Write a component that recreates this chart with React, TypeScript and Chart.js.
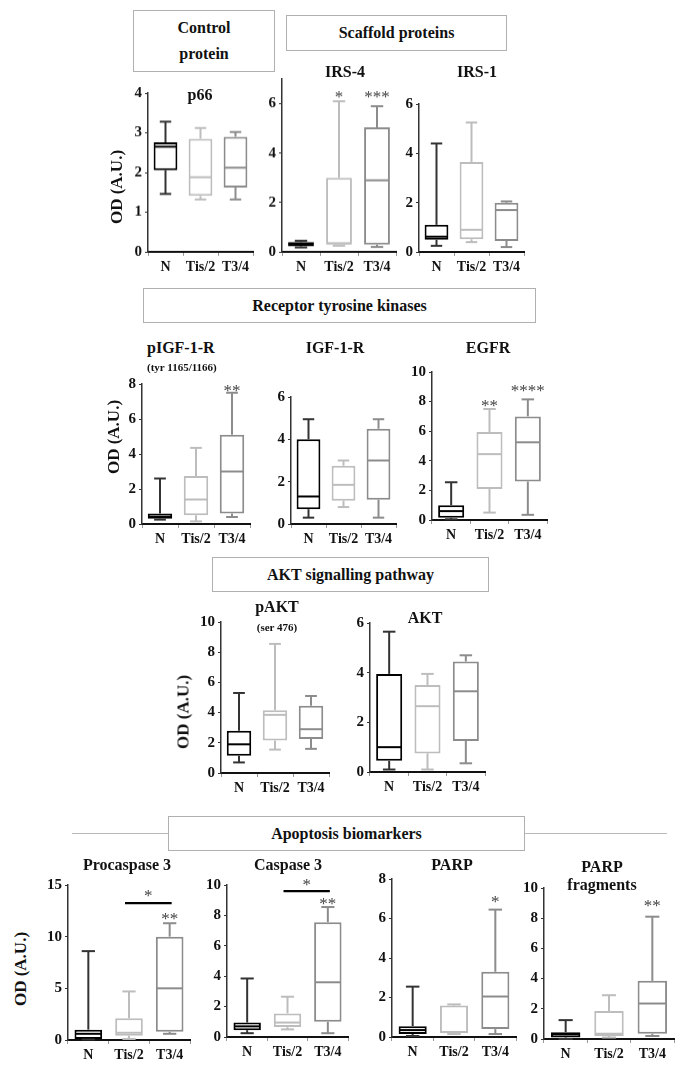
import React, { useEffect, useRef } from 'react';
import { Chart, registerables } from 'chart.js';
Chart.register(...registerables);

const FONT = '"Liberation Serif", "Times New Roman", serif';

const categories = ['N', 'Tis/2', 'T3/4'];
const boxColors = ['#000000', '#bdbdbd', '#8c8c8c'];
const whiskerColors = ['#333333', '#bdbdbd', '#8c8c8c'];

// five-number summaries [min, q1, median, q3, max] for N, Tis/2, T3/4
const p66Box = [[1.46, 2.06, 2.65, 2.76, 3.28], [1.32, 1.41, 1.88, 2.85, 3.12], [1.32, 1.62, 2.12, 2.9, 3.02]];
const irs4Box = [[0.18, 0.22, 0.3, 0.4, 0.45], [0.25, 0.3, 0.35, 3.0, 6.1], [0.2, 0.3, 2.9, 5.05, 5.9]];
const irs1Box = [[0.25, 0.5, 0.62, 1.1, 4.4], [0.4, 0.52, 0.9, 3.65, 5.25], [0.2, 0.45, 1.7, 2.0, 2.05]];
const pigf1rBox = [[0.25, 0.3, 0.42, 0.6, 2.6], [0.15, 0.5, 1.4, 2.75, 4.35], [0.4, 0.6, 3.0, 5.1, 7.5]];
const igf1rBox = [[0.3, 0.7, 1.3, 4.0, 4.95], [0.8, 1.1, 1.85, 2.75, 3.0], [0.3, 1.15, 3.0, 4.5, 4.95]];
const egfrBox = [[0.05, 0.15, 0.6, 1.0, 2.55], [0.5, 2.1, 4.45, 5.95, 7.5], [0.35, 2.6, 5.25, 7.0, 8.15]];
const paktBox = [[0.7, 1.15, 1.9, 2.8, 5.3], [1.55, 2.15, 3.85, 4.15, 8.55], [1.6, 2.25, 2.9, 4.45, 5.1]];
const aktBox = [[0.1, 0.45, 1.0, 3.95, 5.65], [0.1, 0.75, 2.65, 3.5, 3.95], [0.35, 1.25, 3.25, 4.45, 4.7]];
const procasp3Box = [[0.05, 0.1, 0.6, 1.0, 8.6], [0.1, 0.4, 0.7, 2.1, 4.7], [0.6, 0.8, 5.0, 10.0, 11.3]];
const casp3Box = [[0.25, 0.45, 0.7, 0.95, 3.85], [0.5, 0.65, 0.95, 1.55, 2.65], [0.25, 1.0, 3.6, 7.55, 8.55]];
const parpBox = [[0.05, 0.15, 0.35, 0.55, 2.55], [0.15, 0.2, 0.25, 1.6, 1.65], [0.15, 0.4, 2.05, 3.3, 6.45]];
const parpFragBox = [[0.0, 0.1, 0.3, 0.45, 1.25], [0.1, 0.2, 0.35, 1.85, 2.9], [0.2, 0.35, 2.35, 3.85, 8.1]];

// significance stars per group and the value at which they sit
const irs4Stars = ['', '*', '***'];
const irs4StarAt = [0, 6.45, 6.45];
const pigf1rStars = ['', '', '**'];
const pigf1rStarAt = [0, 0, 7.85];
const egfrStars = ['', '**', '****'];
const egfrStarAt = [0, 7.95, 9.0];
const procasp3Stars = ['', '', '**'];
const procasp3StarAt = [0, 0, 12.1];
const casp3Stars = ['', '', '**'];
const casp3StarAt = [0, 0, 9.0];
const parpStars = ['', '', '*'];
const parpStarAt = [0, 0, 7.05];
const parpFragStars = ['', '', '**'];
const parpFragStarAt = [0, 0, 9.05];
// Tis/2 vs T3/4 comparison bar: [bar value, star value]
const procasp3Sig = [13.25, 14.3];
const casp3Sig = [9.6, 10.25];

const panels = [
  { box: p66Box, max: 4, step: 1, left: 148, right: 253, top: 93.3, bottom: 251.7 },
  { box: irs4Box, max: 7, step: 2, left: 282, right: 396, top: 79.3, bottom: 252, stars: irs4Stars, starAt: irs4StarAt },
  { box: irs1Box, max: 6, step: 2, left: 419, right: 524, top: 104, bottom: 252 },
  { box: pigf1rBox, max: 8, step: 2, left: 142, right: 250, top: 384, bottom: 524, stars: pigf1rStars, starAt: pigf1rStarAt },
  { box: igf1rBox, max: 6, step: 2, left: 291, right: 396, top: 397, bottom: 524 },
  { box: egfrBox, max: 10, step: 2, left: 432, right: 547, top: 372, bottom: 520, stars: egfrStars, starAt: egfrStarAt },
  { box: paktBox, max: 10, step: 2, left: 221, right: 329, top: 622, bottom: 773 },
  { box: aktBox, max: 6, step: 2, left: 370, right: 485, top: 623, bottom: 772 },
  { box: procasp3Box, max: 15, step: 5, left: 68, right: 190, top: 885, bottom: 1040, stars: procasp3Stars, starAt: procasp3StarAt, sig: procasp3Sig },
  { box: casp3Box, max: 10, step: 2, left: 227, right: 348, top: 885, bottom: 1037, stars: casp3Stars, starAt: casp3StarAt, sig: casp3Sig },
  { box: parpBox, max: 8, step: 2, left: 392, right: 516, top: 879, bottom: 1037, stars: parpStars, starAt: parpStarAt },
  { box: parpFragBox, max: 10, step: 2, left: 544, right: 674, top: 888, bottom: 1039, stars: parpFragStars, starAt: parpFragStarAt },
];

const Y_W = 32, X_H = 30, PAD_T = 12, PAD_R = 8;

function boxPlugin(p: any) {
  return {
    id: 'boxExtras',
    afterDatasetsDraw(chart: any) {
      const { ctx } = chart;
      const xs = chart.scales.x, ys = chart.scales.y;
      const meta = chart.getDatasetMeta(0);
      const seg = (x1: number, y1: number, x2: number, y2: number) => {
        ctx.beginPath(); ctx.moveTo(x1, y1); ctx.lineTo(x2, y2); ctx.stroke();
      };
      ctx.save();
      ctx.lineWidth = 2;
      p.box.forEach((s: number[], i: number) => {
        const cx = xs.getPixelForValue(i);
        const bw = meta.data[i].width;
        const cap = bw * 0.24;
        ctx.strokeStyle = whiskerColors[i];
        seg(cx, ys.getPixelForValue(s[0]), cx, ys.getPixelForValue(s[1]));
        seg(cx, ys.getPixelForValue(s[3]), cx, ys.getPixelForValue(s[4]));
        seg(cx - cap, ys.getPixelForValue(s[0]), cx + cap, ys.getPixelForValue(s[0]));
        seg(cx - cap, ys.getPixelForValue(s[4]), cx + cap, ys.getPixelForValue(s[4]));
        ctx.strokeStyle = boxColors[i];
        seg(cx - bw / 2 + 1, ys.getPixelForValue(s[2]), cx + bw / 2 - 1, ys.getPixelForValue(s[2]));
      });
      const drawStars = (str: string, cx: number, cy: number) => {
        ctx.fillStyle = '#444';
        ctx.font = `17px ${FONT}`;
        ctx.textAlign = 'center';
        ctx.textBaseline = 'alphabetic';
        const gap = 8.5;
        const n = str.length;
        for (let k = 0; k < n; k++) {
          ctx.fillText('*', cx + (k - (n - 1) / 2) * gap, cy + 9);
        }
      };
      if (p.stars) {
        p.stars.forEach((st: string, i: number) => {
          if (st) drawStars(st, xs.getPixelForValue(i), ys.getPixelForValue(p.starAt[i]));
        });
      }
      if (p.sig) {
        const x1 = xs.getPixelForValue(1) - 4, x2 = xs.getPixelForValue(2) + 2;
        ctx.strokeStyle = '#000';
        ctx.lineWidth = 2.2;
        seg(x1, ys.getPixelForValue(p.sig[0]), x2, ys.getPixelForValue(p.sig[0]));
        drawStars('*', (x1 + x2) / 2, ys.getPixelForValue(p.sig[1]));
      }
      ctx.restore();
    },
  };
}

function BoxPanel({ p }: { p: any }) {
  const ref = useRef<HTMLCanvasElement>(null);
  const w = Y_W + (p.right - p.left) + PAD_R;
  const h = PAD_T + (p.bottom - p.top) + X_H;
  useEffect(() => {
    const chart = new Chart(ref.current as HTMLCanvasElement, {
      type: 'bar',
      data: {
        labels: categories,
        datasets: [{
          data: p.box.map((s: number[]) => [s[1], s[3]]),
          backgroundColor: '#ffffff',
          borderColor: boxColors,
          borderWidth: 2,
          borderSkipped: false,
          barPercentage: 0.68,
          categoryPercentage: 1,
        }],
      },
      options: {
        responsive: false,
        animation: false,
        events: [],
        layout: { padding: { top: PAD_T, right: PAD_R, left: 0, bottom: 0 } },
        plugins: { legend: { display: false }, tooltip: { enabled: false }, title: { display: false } },
        scales: {
          x: {
            type: 'category',
            offset: true,
            afterFit: (s: any) => { s.height = X_H; },
            grid: { display: true, drawOnChartArea: false, drawTicks: true, tickLength: 4, color: '#999' },
            border: { display: true, color: '#111', width: 2 },
            ticks: { color: '#111', font: { family: FONT, size: 14, weight: 'bold' }, padding: 3, maxRotation: 0, autoSkip: false },
          },
          y: {
            min: 0,
            max: p.max,
            afterFit: (s: any) => { s.width = Y_W; },
            grid: { display: true, drawOnChartArea: false, drawTicks: true, tickLength: 3, color: '#333' },
            border: { display: true, color: '#333', width: 1.5 },
            ticks: { stepSize: p.step, includeBounds: false, color: '#111', font: { family: FONT, size: 15, weight: 'bold' }, padding: 3 },
          },
        },
      } as any,
      plugins: [boxPlugin(p)],
    });
    return () => chart.destroy();
  }, []);
  return (
    <canvas
      ref={ref}
      width={w}
      height={h}
      style={{ position: 'absolute', left: p.left - Y_W, top: p.top - PAD_T, width: w, height: h }}
    />
  );
}

const txt = (x: number, y: number, s: string, size = 16, extra: any = {}) => (
  <div style={{ position: 'absolute', left: x, top: y, transform: 'translate(-50%, -50%)', fontSize: size, fontWeight: 'bold', whiteSpace: 'nowrap', lineHeight: 1, color: '#111', ...extra }}>{s}</div>
);

const txtLeft = (x: number, y: number, s: string, size = 16) => (
  <div style={{ position: 'absolute', left: x, top: y, transform: 'translateY(-50%)', fontSize: size, fontWeight: 'bold', whiteSpace: 'nowrap', lineHeight: 1, color: '#111' }}>{s}</div>
);

const yTitle = (x: number, y: number) => (
  <div style={{ position: 'absolute', left: x, top: y, transform: 'translate(-50%, -50%) rotate(-90deg)', fontSize: 17, fontWeight: 'bold', whiteSpace: 'nowrap', lineHeight: 1, color: '#111' }}>OD (A.U.)</div>
);

const header = (left: number, top: number, width: number, height: number, content: any) => (
  <div style={{ position: 'absolute', left, top, width, height, boxSizing: 'border-box', border: '1.5px solid #b0b0b0', background: '#fff', display: 'flex', alignItems: 'center', justifyContent: 'center', textAlign: 'center', fontSize: 16, fontWeight: 'bold', color: '#111', lineHeight: '26px' }}>{content}</div>
);

export default function App() {
  return (
    <div style={{ position: 'absolute', left: 0, top: 0, width: 690, height: 1073, background: '#fff', fontFamily: FONT, overflow: 'hidden' }}>
      {header(133, 10, 142, 62, <span>Control<br />protein</span>)}
      {header(286, 15, 221, 36, 'Scaffold proteins')}
      {header(143, 288, 393, 35, 'Receptor tyrosine kinases')}
      {header(212, 557, 277, 35, 'AKT signalling pathway')}
      <div style={{ position: 'absolute', left: 72, top: 833, width: 96, height: 0, borderTop: '1.5px solid #b8b8b8' }} />
      <div style={{ position: 'absolute', left: 525, top: 833, width: 142, height: 0, borderTop: '1.5px solid #b8b8b8' }} />
      {header(168, 816, 357, 35, 'Apoptosis biomarkers')}

      {panels.map((p, i) => <BoxPanel key={i} p={p} />)}

      {txt(200, 95, 'p66')}
      {txt(345, 72, 'IRS-4')}
      {txt(477, 72, 'IRS-1')}
      {txtLeft(147, 348, 'pIGF-1-R')}
      {txtLeft(147, 367, '(tyr 1165/1166)', 11)}
      {txt(335, 348, 'IGF-1-R')}
      {txt(488, 348, 'EGFR')}
      {txt(277, 607, 'pAKT')}
      {txt(277, 627, '(ser 476)', 11)}
      {txt(425, 618, 'AKT')}
      {txt(127, 865, 'Procaspase 3')}
      {txt(288, 865, 'Caspase 3')}
      {txt(452, 865, 'PARP')}
      {txt(602, 867, 'PARP')}
      {txt(602, 885, 'fragments')}

      {yTitle(116, 187)}
      {yTitle(113, 437)}
      {yTitle(183, 712)}
      {yTitle(20, 969)}
    </div>
  );
}
